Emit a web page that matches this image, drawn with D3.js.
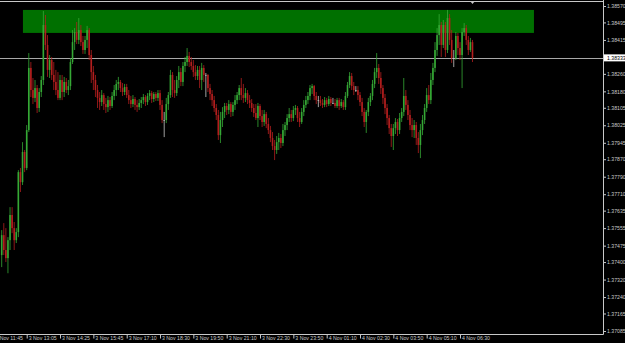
<!DOCTYPE html>
<html>
<head>
<meta charset="utf-8">
<script src="https://cdn.jsdelivr.net/npm/d3@7"></script>
<style>
  html, body { margin: 0; padding: 0; background: #000; }
  svg { display: block; }
  .axis text { font-family: "Liberation Sans", Arial, sans-serif; font-size: 5.2px; fill: #c8c8c8; }
  .axis line { stroke: #c8c8c8; }
</style>
</head>
<body>
<div id="chart"></div>
<script>
// M5 bars, 3 Nov 12:05 -> 4 Nov 06:55
const opens = [
  1.37432,1.37523,1.37455,1.37418,1.37500,1.37615,1.37555,1.37500,1.37537,1.37811,
  1.37765,1.37903,1.37830,1.38003,1.38287,1.38186,1.38150,1.38195,1.38104,1.38177,
  1.38232,1.38483,1.38392,1.38278,1.38323,1.38255,1.38223,1.38186,1.38150,1.38232,
  1.38177,1.38223,1.38186,1.38204,1.38314,1.38405,1.38451,1.38415,1.38460,1.38405,
  1.38369,1.38415,1.38460,1.38346,1.38268,1.38232,1.38186,1.38150,1.38131,1.38163,
  1.38122,1.38108,1.38140,1.38113,1.38159,1.38186,1.38214,1.38223,1.38195,1.38177,
  1.38200,1.38163,1.38140,1.38122,1.38145,1.38118,1.38108,1.38127,1.38140,1.38154,
  1.38131,1.38159,1.38172,1.38145,1.38168,1.38150,1.38172,1.38118,1.38049,1.38049,
  1.38122,1.38163,1.38255,1.38186,1.38172,1.38232,1.38268,1.38223,1.38296,1.38314,
  1.38342,1.38314,1.38296,1.38268,1.38250,1.38278,1.38232,1.38287,1.38255,1.38255,
  1.38195,1.38168,1.38140,1.38104,1.38072,1.37980,1.38049,1.38086,1.38113,1.38095,
  1.38122,1.38086,1.38118,1.38140,1.38163,1.38195,1.38163,1.38150,1.38172,1.38140,
  1.38127,1.38104,1.38081,1.38058,1.38113,1.38067,1.38040,1.38076,1.38031,1.38003,
  1.37967,1.37930,1.37912,1.37948,1.37967,1.37944,1.38003,1.38026,1.38058,1.38076,
  1.38058,1.38095,1.38104,1.38058,1.38040,1.38086,1.38118,1.38140,1.38159,1.38195,
  1.38204,1.38159,1.38140,1.38140,1.38127,1.38118,1.38140,1.38122,1.38145,1.38127,
  1.38127,1.38113,1.38140,1.38113,1.38131,1.38108,1.38159,1.38209,1.38250,1.38204,
  1.38186,1.38186,1.38163,1.38131,1.38086,1.38040,1.38086,1.38131,1.38159,1.38214,
  1.38268,1.38287,1.38241,1.38195,1.38150,1.38104,1.38058,1.38012,1.37976,1.38012,
  1.38040,1.38003,1.38058,1.38086,1.38159,1.38118,1.38072,1.38026,1.38003,1.38026,
  1.37967,1.37935,1.38003,1.38049,1.38104,1.38163,1.38140,1.38232,1.38287,1.38369,
  1.38437,1.38483,1.38392,1.38483,1.38369,1.38515,1.38415,1.38332,1.38332,1.38433,
  1.38378,1.38346,1.38451,1.38469,1.38415,1.38369,1.38405
];
const highs = [
  1.37546,1.37578,1.37555,1.37514,1.37651,1.37651,1.37583,1.37555,1.37820,1.37830,
  1.37948,1.37912,1.38026,1.38355,1.38314,1.38241,1.38232,1.38209,1.38195,1.38250,
  1.38547,1.38529,1.38437,1.38346,1.38337,1.38314,1.38278,1.38268,1.38255,1.38255,
  1.38246,1.38241,1.38232,1.38332,1.38460,1.38469,1.38497,1.38515,1.38483,1.38433,
  1.38433,1.38479,1.38469,1.38369,1.38296,1.38255,1.38209,1.38177,1.38186,1.38172,
  1.38150,1.38159,1.38154,1.38177,1.38209,1.38232,1.38246,1.38232,1.38218,1.38214,
  1.38214,1.38186,1.38159,1.38163,1.38154,1.38140,1.38145,1.38154,1.38168,1.38163,
  1.38172,1.38186,1.38182,1.38177,1.38177,1.38186,1.38186,1.38140,1.38086,1.38150,
  1.38177,1.38278,1.38268,1.38232,1.38250,1.38296,1.38287,1.38314,1.38337,1.38378,
  1.38360,1.38337,1.38323,1.38300,1.38296,1.38296,1.38310,1.38300,1.38264,1.38259,
  1.38214,1.38186,1.38159,1.38122,1.38095,1.38086,1.38108,1.38127,1.38127,1.38140,
  1.38131,1.38131,1.38163,1.38177,1.38209,1.38241,1.38214,1.38195,1.38186,1.38163,
  1.38145,1.38122,1.38122,1.38127,1.38122,1.38095,1.38095,1.38086,1.38058,1.38022,
  1.37994,1.37958,1.37976,1.37990,1.37985,1.38031,1.38040,1.38076,1.38104,1.38095,
  1.38113,1.38118,1.38113,1.38086,1.38104,1.38140,1.38159,1.38177,1.38209,1.38214,
  1.38209,1.38177,1.38159,1.38159,1.38145,1.38154,1.38150,1.38159,1.38154,1.38150,
  1.38145,1.38150,1.38150,1.38145,1.38140,1.38177,1.38223,1.38268,1.38264,1.38223,
  1.38204,1.38204,1.38177,1.38150,1.38104,1.38095,1.38150,1.38172,1.38232,1.38287,
  1.38355,1.38305,1.38268,1.38209,1.38168,1.38122,1.38072,1.38031,1.38031,1.38058,
  1.38054,1.38081,1.38104,1.38241,1.38186,1.38140,1.38095,1.38058,1.38049,1.38040,
  1.37994,1.38031,1.38072,1.38122,1.38195,1.38209,1.38264,1.38310,1.38405,1.38469,
  1.38533,1.38497,1.38506,1.38497,1.38552,1.38533,1.38460,1.38369,1.38451,1.38447,
  1.38405,1.38469,1.38492,1.38483,1.38433,1.38424,1.38415
];
const lows = [
  1.37377,1.37432,1.37400,1.37349,1.37455,1.37532,1.37455,1.37487,1.37514,1.37720,
  1.37752,1.37811,1.37820,1.37994,1.38154,1.38122,1.38131,1.38081,1.38086,1.38154,
  1.38209,1.38369,1.38246,1.38241,1.38232,1.38186,1.38163,1.38140,1.38140,1.38140,
  1.38154,1.38172,1.38163,1.38186,1.38305,1.38369,1.38396,1.38396,1.38387,1.38351,
  1.38351,1.38378,1.38323,1.38218,1.38186,1.38154,1.38104,1.38095,1.38113,1.38095,
  1.38081,1.38086,1.38095,1.38104,1.38140,1.38159,1.38186,1.38177,1.38159,1.38163,
  1.38150,1.38122,1.38104,1.38108,1.38095,1.38086,1.38095,1.38104,1.38122,1.38113,
  1.38118,1.38140,1.38127,1.38131,1.38136,1.38136,1.38095,1.38035,1.37971,1.38035,
  1.38095,1.38150,1.38154,1.38150,1.38159,1.38195,1.38204,1.38204,1.38268,1.38296,
  1.38291,1.38278,1.38246,1.38232,1.38232,1.38195,1.38186,1.38223,1.38154,1.38177,
  1.38140,1.38113,1.38086,1.38049,1.37958,1.37944,1.38017,1.38058,1.38072,1.38076,
  1.38063,1.38067,1.38095,1.38122,1.38140,1.38140,1.38127,1.38131,1.38122,1.38104,
  1.38086,1.38063,1.38049,1.38017,1.38049,1.38017,1.38022,1.38012,1.37985,1.37948,
  1.37912,1.37866,1.37894,1.37912,1.37921,1.37930,1.37976,1.38003,1.38040,1.38040,
  1.38044,1.38072,1.38040,1.38017,1.38031,1.38067,1.38104,1.38122,1.38140,1.38168,
  1.38140,1.38122,1.38108,1.38113,1.38104,1.38108,1.38108,1.38113,1.38113,1.38122,
  1.38104,1.38104,1.38095,1.38104,1.38095,1.38095,1.38150,1.38195,1.38186,1.38163,
  1.38177,1.38140,1.38113,1.38067,1.38017,1.37990,1.38067,1.38113,1.38140,1.38195,
  1.38241,1.38214,1.38168,1.38122,1.38076,1.38026,1.37985,1.37926,1.37912,1.37985,
  1.37976,1.37985,1.38040,1.38067,1.38095,1.38049,1.38003,1.37971,1.37967,1.37935,
  1.37898,1.37875,1.37980,1.38031,1.38086,1.38122,1.38122,1.38209,1.38268,1.38342,
  1.38392,1.38337,1.38378,1.38337,1.38355,1.38392,1.38310,1.38291,1.38323,1.38346,
  1.38323,1.38195,1.38433,1.38392,1.38346,1.38360,1.38314
];
const closes = [
  1.37523,1.37455,1.37418,1.37500,1.37615,1.37555,1.37500,1.37537,1.37811,1.37765,
  1.37903,1.37830,1.38003,1.38287,1.38186,1.38150,1.38195,1.38104,1.38177,1.38232,
  1.38483,1.38392,1.38278,1.38323,1.38255,1.38223,1.38186,1.38150,1.38232,1.38177,
  1.38223,1.38186,1.38204,1.38314,1.38405,1.38451,1.38415,1.38460,1.38405,1.38369,
  1.38415,1.38460,1.38346,1.38268,1.38232,1.38186,1.38150,1.38131,1.38163,1.38122,
  1.38108,1.38140,1.38113,1.38159,1.38186,1.38214,1.38223,1.38195,1.38177,1.38200,
  1.38163,1.38140,1.38122,1.38145,1.38118,1.38108,1.38127,1.38140,1.38154,1.38131,
  1.38159,1.38172,1.38145,1.38168,1.38150,1.38172,1.38118,1.38049,1.38049,1.38122,
  1.38163,1.38255,1.38186,1.38172,1.38232,1.38268,1.38223,1.38296,1.38314,1.38342,
  1.38314,1.38296,1.38268,1.38250,1.38278,1.38232,1.38287,1.38255,1.38255,1.38195,
  1.38168,1.38140,1.38104,1.38072,1.37980,1.38049,1.38086,1.38113,1.38095,1.38122,
  1.38086,1.38118,1.38140,1.38163,1.38195,1.38163,1.38150,1.38172,1.38140,1.38127,
  1.38104,1.38081,1.38058,1.38113,1.38067,1.38040,1.38076,1.38031,1.38003,1.37967,
  1.37930,1.37912,1.37948,1.37967,1.37944,1.38003,1.38026,1.38058,1.38076,1.38058,
  1.38095,1.38104,1.38058,1.38040,1.38086,1.38118,1.38140,1.38159,1.38195,1.38204,
  1.38159,1.38140,1.38140,1.38127,1.38118,1.38140,1.38122,1.38145,1.38127,1.38127,
  1.38113,1.38140,1.38113,1.38131,1.38108,1.38159,1.38209,1.38250,1.38204,1.38186,
  1.38186,1.38163,1.38131,1.38086,1.38040,1.38086,1.38131,1.38159,1.38214,1.38268,
  1.38287,1.38241,1.38195,1.38150,1.38104,1.38058,1.38012,1.37976,1.38012,1.38040,
  1.38003,1.38058,1.38086,1.38159,1.38118,1.38072,1.38026,1.38003,1.38026,1.37967,
  1.37935,1.38003,1.38049,1.38104,1.38163,1.38140,1.38232,1.38287,1.38369,1.38437,
  1.38483,1.38392,1.38483,1.38369,1.38515,1.38415,1.38332,1.38332,1.38433,1.38378,
  1.38346,1.38451,1.38469,1.38415,1.38369,1.38405,1.38333
];

// price axis labels
const priceTicks = [1.38570,1.38495,1.38415,1.38260,1.38180,1.38105,1.38025,1.37945,1.37870,
  1.37790,1.37710,1.37635,1.37555,1.37475,1.37400,1.37320,1.37240,1.37165,1.37085];
// time axis labels and the bar they sit on (bar 0 = 3 Nov 12:05)
const timeLabels = ["3 Nov 11:45","3 Nov 13:05","3 Nov 14:25","3 Nov 15:45","3 Nov 17:10",
  "3 Nov 18:30","3 Nov 19:50","3 Nov 21:10","3 Nov 22:30","3 Nov 23:50","4 Nov 01:10",
  "4 Nov 02:30","4 Nov 03:50","4 Nov 05:10","4 Nov 06:30"];
const timeBars = [-4,12,28,44,60,76,92,108,124,140,156,172,188,204,220];

// green zone rectangle (bar index / price)
const zoneBars = [10.2, 255.5];
const zonePrices = [1.38447, 1.38552];

const width = 625, height = 343;
const plotRight = 603, plotBottom = 334;

const svg = d3.select('#chart').append('svg')
  .attr('width', width)
  .attr('height', height)
  .style('background', '#000');

const x = d3.scaleLinear()
  .domain([0, closes.length - 1])
  .range([1.7, 472.5]);

const y = d3.scaleLinear()
  .domain([1.37085, 1.38570])
  .range([331, 6]);

svg.append('defs').append('clipPath').attr('id', 'plot')
  .append('rect').attr('x', 0).attr('y', 0).attr('width', plotRight).attr('height', plotBottom);

const plot = svg.append('g').attr('clip-path', 'url(#plot)');

// zone
plot.append('rect')
  .attr('x', x(zoneBars[0]))
  .attr('y', y(zonePrices[1]))
  .attr('width', x(zoneBars[1]) - x(zoneBars[0]))
  .attr('height', y(zonePrices[0]) - y(zonePrices[1]))
  .attr('fill', '#007000');

// current price line
const last = closes[closes.length - 1];
plot.append('line')
  .attr('x1', 0).attr('x2', plotRight)
  .attr('y1', Math.round(y(last)) + 0.5).attr('y2', Math.round(y(last)) + 0.5)
  .attr('stroke', '#a8a8a8').attr('stroke-width', 1);

// candles
const bars = d3.range(closes.length).map(i => ({
  i, o: opens[i], h: highs[i], l: lows[i], c: closes[i]
}));
const colour = d => d.c > d.o ? '#35a835' : (d.c < d.o ? '#b31e1e' : '#c8c8c8');

const candle = plot.selectAll('g.candle')
  .data(bars)
  .enter()
  .append('g')
  .attr('class', 'candle');

candle.append('line')
  .attr('x1', d => x(d.i)).attr('x2', d => x(d.i))
  .attr('y1', d => y(d.h)).attr('y2', d => y(d.l))
  .attr('stroke', colour)
  .attr('stroke-width', 0.8);

candle.append('rect')
  .attr('x', d => x(d.i) - 0.8)
  .attr('width', 1.6)
  .attr('y', d => y(Math.max(d.o, d.c)))
  .attr('height', d => Math.max(0.7, Math.abs(y(d.o) - y(d.c))))
  .attr('fill', colour);

// frame
svg.append('line').attr('x1', 0).attr('x2', plotRight).attr('y1', 1.5).attr('y2', 1.5)
  .attr('stroke', '#c8c8c8');
svg.append('line').attr('x1', plotRight + 0.5).attr('x2', plotRight + 0.5).attr('y1', 0).attr('y2', plotBottom + 0.5)
  .attr('stroke', '#c8c8c8');
svg.append('line').attr('x1', 0).attr('x2', plotRight + 0.5).attr('y1', plotBottom + 0.5).attr('y2', plotBottom + 0.5)
  .attr('stroke', '#c8c8c8');

// shift marker
const sx = x(closes.length - 1);
svg.append('path')
  .attr('d', `M${sx - 2.5},1 L${sx + 2.5},1 L${sx},4 Z`)
  .attr('fill', '#c8c8c8');

// price axis
const yAxis = d3.axisRight(y)
  .tickValues(priceTicks)
  .tickSize(2.5)
  .tickSizeOuter(0)
  .tickPadding(1)
  .tickFormat(d3.format('.5f'));

svg.append('g')
  .attr('class', 'axis')
  .attr('transform', `translate(${plotRight + 0.5},0)`)
  .call(yAxis)
  .call(g => g.select('.domain').remove());

// current price box
const lastY = y(last);
svg.append('rect')
  .attr('x', plotRight + 1).attr('y', lastY - 3.5)
  .attr('width', width - plotRight - 1).attr('height', 7)
  .attr('fill', '#ffffff');
svg.append('text')
  .attr('class', 'axis')
  .attr('x', plotRight + 4).attr('y', lastY)
  .attr('dy', '0.35em')
  .style('font-family', '"Liberation Sans", Arial, sans-serif')
  .style('font-size', '5.2px')
  .attr('fill', '#000')
  .text(d3.format('.5f')(last));

// time axis
const xAxis = d3.axisBottom(x)
  .tickValues(timeBars)
  .tickSize(4)
  .tickSizeOuter(0)
  .tickFormat((d, i) => timeLabels[i]);

svg.append('g')
  .attr('class', 'axis')
  .attr('transform', `translate(0,${plotBottom + 0.5})`)
  .call(xAxis)
  .call(g => g.select('.domain').remove())
  .selectAll('text')
  .attr('text-anchor', 'start')
  .attr('x', 1.5)
  .attr('y', 1.5)
  .attr('dy', '0.71em');
</script>
</body>
</html>
